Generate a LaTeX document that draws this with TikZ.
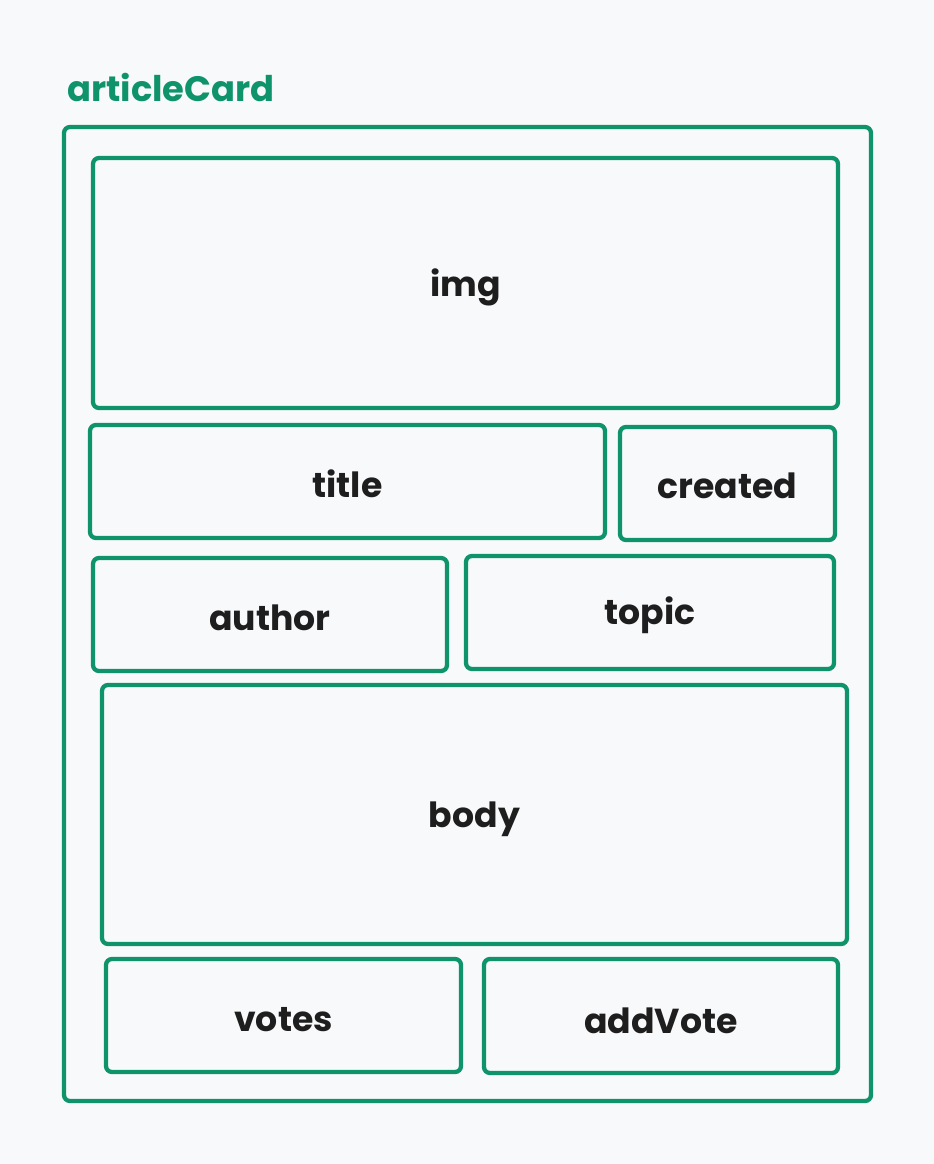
\documentclass[tikz,border=0pt]{standalone}
\usepackage{fontspec}
\setmainfont{Poppins}
\definecolor{bg}{HTML}{F8F9FB}
\definecolor{grn}{HTML}{0E936A}
\definecolor{ink}{HTML}{1E1E1E}
\begin{document}
\begin{tikzpicture}[x=0.75pt,y=-0.75pt,
  card/.style={draw=grn,line width=3.2pt,rounded corners=4.5pt},
  lbl/.style={text=ink,font=\fontsize{26}{31}\selectfont\bfseries,yshift=-2pt},
  ttl/.style={text=grn,font=\fontsize{26.5}{31}\selectfont\bfseries,anchor=base west,inner sep=0pt}]
\fill[bg] (0,0) rectangle (934,1164);
\useasboundingbox (0,0) rectangle (934,1164);
\node[ttl] (cap) at (67,101) {articleCard};
\draw[card] (64,127) rectangle (871,1101);
\draw[card] (93,158) rectangle (838,408);
\node[lbl] (img) at (465.5,285) {img};
\draw[card] (90,425) rectangle (605,538);
\node[lbl] (title) at (347.5,481) {title};
\draw[card] (620,427) rectangle (835,540);
\node[lbl] (created) at (727.5,483) {created};
\draw[card] (93,558) rectangle (447,671);
\node[lbl] (author) at (270,615) {author};
\draw[card] (466,556) rectangle (834,669);
\node[lbl] (topic) at (650,613) {topic};
\draw[card] (102,685) rectangle (847,944);
\node[lbl] (body) at (474.5,817) {body};
\draw[card] (106,959) rectangle (461,1072);
\node[lbl] (votes) at (283.5,1017) {votes};
\draw[card] (484,959) rectangle (838,1073);
\node[lbl] (addVote) at (661,1018) {addVote};
\end{tikzpicture}
\end{document}
